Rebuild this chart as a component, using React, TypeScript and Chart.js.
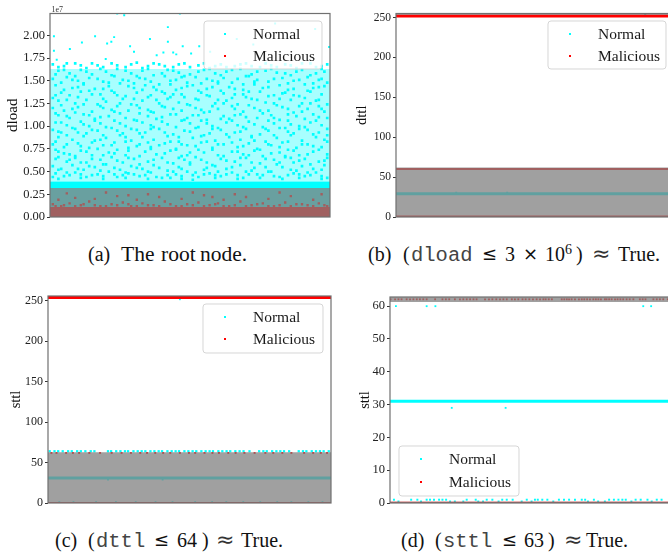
import React, { useEffect, useRef } from "react";
import { Chart, registerables } from "chart.js";

Chart.register(...registerables);

const LEGEND_LABELS = ["Normal", "Malicious"];
const CYAN = "rgb(0,255,255)";
const RED = "rgb(255,0,0)";
const SHADE = "rgba(128,128,128,0.75)";

// Panel (a): x is sample position in percent, y is dload in units of 1e5
const dloadOutliers = [[24,224],[26.5,222],[46.4,224],[1.4,199],[16.1,199],[22.9,198],[11.4,192],[20.4,191],[21.9,193],[35.7,196],[42.1,209],[42.1,193],[1.4,183],[7.1,185],[28.6,188],[30,182],[38.1,178],[40.5,181],[44,181],[45.1,179],[47.4,188],[50.4,180],[53.3,188],[2.4,173],[19.9,174],[80.4,213],[94.7,207],[99.7,187],[57.2,182],[66.7,196],[72.6,190]];
const dloadCloud = [
[1,168],[5,166],[9,169],[13,164],[17,167],[22,169],[27,165],[31,170],[35,166],[39,168],[44,165],[48,169],[53,167],[57,164],[61,168],[66,166],[70,169],[75,165],[79,167],[84,168],[88,164],[93,169],[97,166],[99,168],
[3,161],[7,158],[11,162],[15,157],[20,160],[24,163],[29,158],[33,161],[37,156],[42,162],[46,159],[50,157],[55,162],[59,158],[63,160],[68,163],[72,157],[77,161],[81,159],[86,156],[90,162],[95,158],[98,160],
[1,152],[6,154],[10,150],[14,153],[19,149],[23,155],[26,151],[32,153],[36,149],[41,155],[45,151],[49,148],[52,154],[58,150],[62,153],[65,148],[71,155],[74,151],[78,149],[83,153],[87,150],[92,154],[96,151],[99,148],
[2,145],[8,142],[12,146],[16,141],[21,144],[25,147],[30,142],[34,145],[38,140],[43,146],[47,142],[51,145],[56,141],[60,147],[64,143],[69,140],[73,146],[76,142],[82,145],[85,140],[91,146],[94,142],[98,144],
[4,137],[7,134],[11,138],[18,135],[22,139],[27,133],[31,137],[35,132],[40,138],[44,135],[48,132],[54,137],[57,133],[61,139],[66,135],[70,132],[75,138],[80,134],[84,137],[89,133],[93,138],[97,135],[1,131],
[3,128],[9,125],[13,129],[17,124],[20,127],[26,130],[29,124],[33,128],[39,125],[42,130],[46,126],[50,123],[53,129],[59,125],[63,128],[67,124],[72,130],[77,126],[81,123],[86,129],[90,125],[95,128],[99,124],
[1,120],[5,117],[10,121],[15,116],[19,120],[24,122],[28,117],[32,120],[37,115],[41,121],[47,117],[52,120],[55,115],[60,119],[65,122],[69,116],[73,120],[78,117],[83,121],[87,115],[92,119],[96,122],[98,116],
[3,112],[7,109],[12,113],[16,108],[21,111],[25,114],[30,107],[35,111],[38,108],[43,113],[49,109],[51,112],[56,107],[62,111],[64,108],[68,113],[74,109],[79,112],[82,107],[88,111],[91,108],[94,113],[99,109],
[2,104],[6,101],[11,105],[14,100],[18,103],[23,106],[27,100],[33,104],[36,101],[40,105],[45,99],[50,103],[54,106],[58,100],[63,104],[67,101],[71,105],[76,99],[80,103],[85,106],[89,100],[93,104],[97,101],
[1,96],[4,93],[9,97],[13,92],[17,95],[22,98],[26,92],[31,96],[34,93],[39,97],[44,91],[48,95],[52,98],[57,92],[61,96],[66,93],[70,97],[75,91],[78,95],[84,98],[87,92],[92,96],[96,93],[99,97],
[3,88],[8,85],[12,89],[16,84],[20,87],[25,90],[29,84],[33,88],[37,85],[42,89],[46,83],[51,87],[55,90],[59,84],[64,88],[68,85],[72,89],[77,83],[81,87],[86,90],[90,84],[95,88],[98,85],
[1,80],[5,77],[10,81],[14,76],[19,79],[23,82],[28,76],[32,80],[36,77],[41,81],[45,75],[49,79],[54,82],[58,76],[62,80],[67,77],[71,81],[74,75],[79,79],[83,82],[88,76],[92,80],[97,77],
[3,72],[7,69],[11,73],[15,68],[21,71],[24,74],[27,68],[34,72],[38,69],[43,73],[47,67],[50,71],[53,74],[60,68],[65,72],[69,69],[73,73],[76,67],[82,71],[85,74],[89,68],[94,72],[99,69],
[2,64],[6,61],[9,65],[13,60],[18,63],[22,66],[26,60],[30,64],[35,61],[40,65],[44,59],[48,63],[52,66],[56,60],[61,64],[66,61],[70,65],[75,59],[80,63],[84,66],[87,60],[91,64],[96,61],[99,65],
[1,56],[4,53],[8,57],[12,52],[16,55],[20,58],[25,52],[29,56],[33,53],[37,57],[42,51],[46,55],[50,58],[55,52],[59,56],[63,53],[68,57],[72,51],[77,55],[81,58],[86,52],[90,56],[94,53],[98,57],
[2,48],[5,45],[9,49],[13,44],[17,47],[21,50],[24,44],[28,48],[32,45],[36,49],[40,43],[45,47],[49,50],[53,44],[57,48],[61,45],[65,49],[69,43],[74,47],[78,50],[82,44],[87,48],[91,45],[95,49],[99,43],
[3,42],[11,43],[19,42],[27,43],[35,42],[43,43],[47,42],[51,41],[59,43],[67,42],[75,43],[83,42],[89,43],[97,42],
];
const dloadCloudFill = [
[3,165],[6,169],[11,167],[15,169],[19,165],[24,167],[29,168],[33,164],[37,169],[41,166],[46,168],[50,165],[55,169],[59,166],[63,165],[68,168],[72,166],[77,169],[81,165],[86,167],[90,169],[95,165],
[2,157],[5,162],[9,155],[13,160],[18,163],[22,156],[27,161],[31,155],[35,163],[40,158],[44,161],[48,155],[53,160],[57,163],[61,156],[65,162],[70,155],[74,160],[79,163],[84,158],[88,160],[93,156],[97,163],
[4,148],[8,151],[12,147],[17,152],[21,148],[28,150],[30,147],[34,152],[39,146],[43,150],[47,154],[54,147],[56,152],[60,149],[67,152],[69,146],[73,149],[80,152],[85,147],[89,151],[94,147],[97,152],
[5,140],[10,143],[14,139],[19,141],[23,137],[28,144],[33,140],[37,143],[41,136],[45,140],[49,144],[53,139],[58,143],[62,136],[66,141],[71,138],[78,143],[83,136],[87,141],[92,139],[96,143],
[2,134],[6,129],[10,132],[15,135],[19,130],[24,134],[30,130],[36,134],[38,129],[43,132],[47,135],[52,130],[56,134],[60,129],[65,131],[69,135],[74,129],[78,133],[82,130],[87,134],[91,131],[96,129],
[4,123],[8,119],[12,124],[18,122],[22,118],[25,125],[31,123],[35,118],[40,122],[44,119],[49,124],[54,118],[58,122],[62,125],[66,119],[71,123],[75,117],[80,125],[85,119],[89,122],[93,125],[97,119],
[2,114],[6,111],[9,115],[14,112],[18,110],[23,116],[27,109],[32,114],[36,116],[40,110],[45,113],[48,107],[53,112],[57,116],[61,108],[66,112],[70,110],[76,114],[80,109],[85,113],[90,116],[96,110],
[4,104],[8,98],[12,102],[16,106],[20,99],[25,103],[29,97],[31,106],[37,99],[42,102],[47,106],[53,99],[56,103],[60,98],[65,106],[69,99],[73,102],[78,106],[82,98],[86,102],[91,99],[95,106],
[3,94],[6,90],[10,93],[15,96],[19,90],[24,95],[27,88],[32,92],[36,97],[41,93],[46,88],[50,94],[54,89],[58,97],[63,91],[68,94],[72,88],[77,97],[80,90],[85,94],[89,97],[94,91],[99,90],
[2,83],[6,80],[11,78],[15,82],[18,85],[22,79],[27,83],[31,78],[35,82],[39,79],[43,83],[47,80],[52,78],[56,83],[60,80],[65,82],[69,78],[73,84],[78,80],[82,77],[85,83],[90,80],[94,78],[99,83],
[2,74],[5,70],[9,67],[13,72],[17,75],[19,68],[23,70],[28,73],[32,67],[36,75],[41,70],[45,74],[49,68],[55,71],[58,74],[62,67],[67,72],[71,68],[75,74],[79,70],[84,67],[87,73],[92,69],[96,74],
[3,66],[7,63],[11,60],[15,64],[19,58],[24,62],[28,65],[32,58],[37,63],[42,60],[46,65],[50,60],[54,63],[58,57],[63,62],[68,65],[72,60],[77,64],[82,60],[86,65],[89,62],[93,58],[98,62],
[3,52],[6,49],[10,53],[14,56],[18,51],[23,54],[27,49],[31,54],[35,50],[39,54],[44,50],[47,53],[52,49],[56,54],[60,50],[65,55],[70,50],[73,54],[79,50],[83,55],[88,51],[92,49],[97,52],
[1,44],[7,46],[11,47],[15,46],[19,45],[23,47],[26,46],[30,47],[34,46],[38,44],[42,46],[47,45],[51,46],[55,47],[59,46],[63,47],[67,46],[71,47],[76,46],[80,45],[85,46],[89,47],[93,46],[97,45],
];
const dloadMaliciousSpread = [[1,14],[4,12],[7,15],[11,13],[14,17],[18,12],[22,14],[26,16],[29,12],[33,15],[37,13],[41,17],[45,12],[49,14],[53,16],[57,13],[60,15],[64,12],[68,17],[72,13],[76,15],[80,12],[84,16],[88,14],[92,13],[96,15],[99,12],[3,19],[9,21],[16,20],[24,23],[31,19],[39,22],[47,20],[55,24],[62,19],[70,22],[78,20],[86,23],[94,19],[6,26],[20,27],[35,25],[51,27],[66,25],[82,27],[97,25],[28,24],[58,22],[2,12],[5,13],[9,12],[12,14],[16,13],[20,12],[24,13],[28,14],[31,12],[35,13],[39,12],[43,14],[47,12],[51,13],[55,12],[59,14],[62,12],[66,13],[70,12],[74,14],[78,12],[82,13],[86,12],[90,14],[94,12],[98,13]];
const dloadNormalSolidTop = 39;
const dloadNormalMixedTop = 32;
const dloadCloudTop = 163;
const dloadMaliciousSolidTop = 11;
const dloadShadeTop = 32;

// Panel (b): dttl
const dttlMaliciousRows = [252, 60, 0.5];
const dttlNormalRow = 29;
const dttlNormalDots = [[21.5,30.5],[39.7,30.5],[89,254]];
const dttlShade = [[0,62],[253.5,255]];

// Panel (c): sttl
const sttlMaliciousRows = [254, 0];
const sttlNormalRow = 31;
const sttlNormalDots = [[46.6,252],[21.2,29],[40.5,29]];
const sttlUpperNormalX = [0.6,2.3,3.6,5.2,7.1,8.4,10.3,11.6,13.2,15.1,16.4,21.2,22.3,24.1,25.6,27.2,28.3,30.2,31.7,33.1,34.4,36.2,37.6,39.1,40.3,42.2,43.7,45.1,46.3,48.2,49.6,51.1,52.4,54.2,55.7,57.1,58.3,60.2,61.6,63.1,64.4,66.2,67.7,69.1,71.2,74.6,76.1,77.3,79.2,80.7,82.1,83.4,85.2,88.6,90.1,91.3,93.2,94.7,96.1,97.4,99.2];
const sttlUpperMaliciousX = [1.2,3,6.4,8.8,11,14.6,18.4,22.5,26,29.3,32.6,35,37.9,40.7,43.2,46.6,49.8,52,55.3,58.1,60.4,63.7,66.3,69.4,73,76.8,79.6,82.8,86,90.5,93.7,96.4,98.6];
const sttlLowerNormalX = [4,9,17,24,31,38,44,52,58,63,69,75,81,86,92,97];
const sttlUpperY = 64;
const sttlMaliciousY = 61.8;
const sttlLowerY = 1;
const sttlShadeTop = 62.7;

// Panel (d): sttl zoomed
const sttlTopMaliciousX = [0.2,1.8,3,4.1,5.9,7.1,8.3,9.5,10.6,11.8,13,16,18.6,19.8,21,23,24.8,26,27.2,28.4,29.6,30.7,33.7,35.1,36.3,37.7,39,40.2,41.4,43.2,44.3,45.5,47,48.1,49.4,50.7,52,53.2,54.4,55.2,56.3,57.4,60.9,61.8,62.7,63.5,64.4,65.6,67,68,68.9,69.9,70.9,72.1,73,73.9,74.8,76.2,76.8,77.7,78.6,79.8,80.7,81.7,82.7,83.9,85,86.3,88.6,89.6,90.6,93.4,94.6,95.7,96.9,98.5];
const sttlOneX = [1.4,7.5,9.7,13,14.2,15.6,17.4,18.6,19.9,27.2,30.4,34.3,36.3,39.8,41.4,43.5,48.5,51.4,52.4,54,55.8,59.9,61.7,63.5,65.6,68,69.2,72.3,77.7,79.4,81,82.4,83.6,87.1,88.9,91.3,94.6,96.3];
const sttlSixtyX = [2.1,13,16.1,89.8,92.6];
const sttlTwentyNineX = [21.9,41];
const sttlNearZeroX = [21.3,23,31.3,38.5,46.7,50.2,57.9,70.2,73.8,76.2,85.6,92.8,3,11,26,33];
const sttlLineY = 31;
const sttlTopY = 62.1;

const dot = (x: number, y: number) => ({ x, y });
const pairs = (list: number[][]) => list.map(([x, y]) => dot(x, y));
const atY = (xs: number[], y: number) => xs.map((x) => dot(x, y));

const scatter = (data: any[], color: string, order: number, radius = 1.6) => ({
  type: "scatter", data, order, pointStyle: "rect", pointRadius: radius,
  pointBorderWidth: 0, pointBackgroundColor: color, showLine: false,
});
const row = (y: number, color: string, order: number, width: number) => ({
  type: "line", data: [dot(0, y), dot(100, y)], order, borderColor: color,
  borderWidth: width, pointRadius: 0, fill: false,
});
const area = (lo: number, hi: number, color: string, order: number) => ({
  type: "line", data: [dot(0, hi), dot(100, hi)], order, borderWidth: 0,
  pointRadius: 0, backgroundColor: color, fill: { value: lo },
});

type Panel = {
  left: number; top: number; width: number; height: number; axisWidth: number;
  padTop: number; padBottom: number; padRight: number; titlePad: number;
  yMax: number; step: number; title: string; titleSize: number; tickSize: number;
  fmt?: (v: number) => string; offset?: string;
  legend: number[]; datasets: any[];
};

const panels: Panel[] = [
  {
    left: 0, top: 0, width: 340, height: 225, axisWidth: 50, padTop: 13.5, padBottom: 8, padRight: 10,
    titlePad: 4, yMax: 224, step: 25, title: "dload", titleSize: 15, tickSize: 12.5,
    fmt: (v) => (v / 100).toFixed(2), offset: "1e7",
    legend: [204, 21, 118, 48, 225, 253, 34, 56],
    datasets: [
      area(0, dloadShadeTop, SHADE, 0),
      scatter(pairs(dloadMaliciousSpread), RED, 1, 1.7),
      area(0, dloadMaliciousSolidTop, RED, 2),
      scatter(pairs(dloadOutliers), CYAN, 3, 1.4),
      scatter(pairs(dloadCloud), CYAN, 4, 1.9),
      scatter(pairs(dloadCloudFill), CYAN, 4, 1.9),
      area(dloadNormalMixedTop, dloadNormalSolidTop, CYAN, 5),
      area(0, dloadNormalMixedTop, "rgba(0,255,255,0.85)", 5),
      area(dloadNormalSolidTop, dloadCloudTop, "rgba(0,255,255,0.34)", 6),
    ],
  },
  {
    left: 340, top: 0, width: 340, height: 225, axisWidth: 56, padTop: 13.5, padBottom: 8, padRight: 2,
    titlePad: 13, yMax: 255, step: 50, title: "dttl", titleSize: 14.5, tickSize: 11.5,
    legend: [208, 21, 118, 48, 230, 258, 34, 56],
    datasets: [
      ...dttlShade.map(([lo, hi]) => area(lo, hi, SHADE, 0)),
      row(dttlMaliciousRows[0], RED, 1, 3),
      row(dttlMaliciousRows[1], RED, 1, 2),
      row(dttlMaliciousRows[2], RED, 1, 2),
      scatter(pairs(dttlNormalDots), CYAN, 2, 1.4),
      row(dttlNormalRow, CYAN, 3, 3),
    ],
  },
  {
    left: 0, top: 285, width: 340, height: 225, axisWidth: 48, padTop: 11, padBottom: 7, padRight: 9,
    titlePad: 7, yMax: 256, step: 50, title: "sttl", titleSize: 14.5, tickSize: 12,
    legend: [203, 19, 120, 49, 225, 253, 32, 54],
    datasets: [
      area(0, sttlShadeTop, SHADE, 0),
      row(sttlMaliciousRows[0], RED, 1, 3),
      row(sttlMaliciousRows[1], RED, 1, 2),
      scatter(atY(sttlUpperMaliciousX, sttlMaliciousY), RED, 2, 1.4),
      scatter(pairs(sttlNormalDots), CYAN, 3, 1.3),
      scatter(atY(sttlUpperNormalX, sttlUpperY), CYAN, 3, 1.6),
      scatter(atY(sttlLowerNormalX, sttlLowerY), CYAN, 3, 1.3),
      row(sttlNormalRow, CYAN, 4, 3),
    ],
  },
  {
    left: 340, top: 285, width: 340, height: 225, axisWidth: 50, padTop: 12, padBottom: 7, padRight: 8,
    titlePad: 16, yMax: 62.8, step: 10, title: "sttl", titleSize: 14.5, tickSize: 12.5,
    legend: [59, 161, 120, 50, 81, 109, 174, 197],
    datasets: [
      area(61.3, 62.8, SHADE, 0),
      area(0, 0.35, SHADE, 0),
      scatter(atY(sttlTopMaliciousX, sttlTopY), RED, 1, 1.3),
      row(0.1, RED, 1, 2),
      scatter(atY(sttlOneX, 1), CYAN, 2, 1.4),
      scatter(atY(sttlSixtyX, 60), CYAN, 2, 1.3),
      scatter(atY(sttlTwentyNineX, 29), CYAN, 2, 1.3),
      scatter(atY(sttlNearZeroX, 0.45), CYAN, 2, 1.4),
      row(sttlLineY, CYAN, 3, 3),
    ],
  },
];

const decorations = (p: Panel) => ({
  id: "decorations",
  afterDatasetsDraw(chart: any) {
    const { ctx, chartArea: a } = chart;
    ctx.save();
    ctx.strokeStyle = "#707070";
    ctx.lineWidth = 1.2;
    ctx.strokeRect(a.left, a.top, a.right - a.left, a.bottom - a.top);
    const [x, y, w, h, mx, tx, y1, y2] = p.legend;
    ctx.beginPath();
    ctx.roundRect(x, y, w, h, 3);
    ctx.fillStyle = "rgba(255,255,255,0.8)";
    ctx.fill();
    ctx.strokeStyle = "rgba(204,204,204,0.8)";
    ctx.lineWidth = 1;
    ctx.stroke();
    ctx.font = '15.5px "Liberation Serif"';
    ctx.textBaseline = "middle";
    [y1, y2].forEach((ly, i) => {
      ctx.fillStyle = i === 0 ? CYAN : RED;
      ctx.fillRect(mx - 1, ly - 1, 2, 2);
      ctx.fillStyle = "#1a1a1a";
      ctx.fillText(LEGEND_LABELS[i], tx, ly + 0.5);
    });
    if (p.offset) {
      ctx.font = '8px "Liberation Serif"';
      ctx.fillStyle = "#333";
      ctx.textBaseline = "alphabetic";
      ctx.fillText(p.offset, a.left + 1.5, a.top - 2);
    }
    ctx.restore();
  },
});

function ChartPanel({ panel }: { panel: Panel }) {
  const ref = useRef<HTMLCanvasElement>(null);
  useEffect(() => {
    const chart = new Chart(ref.current as HTMLCanvasElement, {
      type: "scatter",
      data: { datasets: panel.datasets } as any,
      plugins: [decorations(panel)],
      options: {
        animation: false,
        responsive: false,
        layout: { padding: { top: panel.padTop, bottom: panel.padBottom, right: panel.padRight, left: 0 } },
        plugins: { legend: { display: false }, tooltip: { enabled: false } },
        scales: {
          x: { type: "linear", min: 0, max: 100, display: false },
          y: {
            type: "linear", min: 0, max: panel.yMax,
            afterFit: (s: any) => { s.width = panel.axisWidth; s.paddingTop = 0; s.paddingBottom = 0; },
            grid: { drawOnChartArea: false, drawTicks: true, tickLength: 3, tickColor: "#333", tickWidth: 1 },
            border: { display: false },
            title: {
              display: true, text: panel.title, color: "#111",
              font: { family: "Liberation Serif", size: panel.titleSize },
              padding: { top: panel.titlePad, bottom: 0 },
            },
            ticks: {
              stepSize: panel.step, includeBounds: false, autoSkip: false, padding: 2, color: "#222",
              font: { family: "Liberation Serif", size: panel.tickSize },
              callback: (v: any) => (panel.fmt ? panel.fmt(Number(v)) : String(v)),
            },
          },
        },
      } as any,
    });
    return () => chart.destroy();
  }, [panel]);
  return (
    <canvas
      ref={ref}
      width={panel.width}
      height={panel.height}
      style={{ position: "absolute", left: panel.left, top: panel.top, width: panel.width, height: panel.height, filter: "blur(0.35px)" }}
    />
  );
}

// Caption fragments: [text, left, kind]
const SERIF = '"Liberation Serif"';
const kinds: Record<string, React.CSSProperties> = {
  t: { fontFamily: SERIF, fontSize: 20 },
  w: { fontFamily: SERIF, fontSize: 21.5 },
  m: { fontFamily: '"Liberation Mono"', fontSize: 20.5, color: "#444", transform: "translateY(1.5px)" },
  s: { fontFamily: '"DejaVu Sans"', fontSize: 18 },
  x: { fontFamily: '"DejaVu Sans"', fontSize: 22, fontWeight: 400, color: "#333" },
  u: { fontFamily: SERIF, fontSize: 14 },
};
const captionA: [string, number, string][] = [["(a)", 88, "t"], ["The", 121, "w"], ["root", 161, "w"], ["node.", 200, "w"]];
const captionB: [string, number, string][] = [["(b)", 368, "t"], ["(", 403, "t"], ["dload", 411, "m"], ["≤", 482, "s"], ["3", 505, "t"], ["×", 523, "s"], ["10", 545, "t"], ["6", 565, "u"], [")", 576, "t"], ["≈", 592, "x"], ["True.", 618, "t"]];
const captionC: [string, number, string][] = [["(c)", 55, "t"], ["(", 88, "t"], ["dttl", 96, "m"], ["≤", 154, "s"], ["64", 177, "t"], [")", 202, "t"], ["≈", 216, "x"], ["True.", 241, "t"]];
const captionD: [string, number, string][] = [["(d)", 401, "t"], ["(", 435, "t"], ["sttl", 443, "m"], ["≤", 502, "s"], ["63", 524, "t"], [")", 548, "t"], ["≈", 564, "x"], ["True.", 586, "t"]];

function Caption({ parts, top }: { parts: [string, number, string][]; top: number }) {
  return (
    <>
      {parts.map(([text, left, kind], i) => (
        <span
          key={i}
          style={{
            position: "absolute", left, top: kind === "u" ? top - 4 : top, whiteSpace: "nowrap",
            lineHeight: "24px", color: "#111", ...kinds[kind],
          }}
        >
          {text}
        </span>
      ))}
    </>
  );
}

export default function App() {
  return (
    <div style={{ position: "absolute", left: 0, top: 0, width: 668, height: 552, overflow: "hidden", background: "#fff" }}>
      {panels.map((p, i) => <ChartPanel key={i} panel={p} />)}
      <Caption parts={captionA} top={242} />
      <Caption parts={captionB} top={242} />
      <Caption parts={captionC} top={528} />
      <Caption parts={captionD} top={528} />
    </div>
  );
}
